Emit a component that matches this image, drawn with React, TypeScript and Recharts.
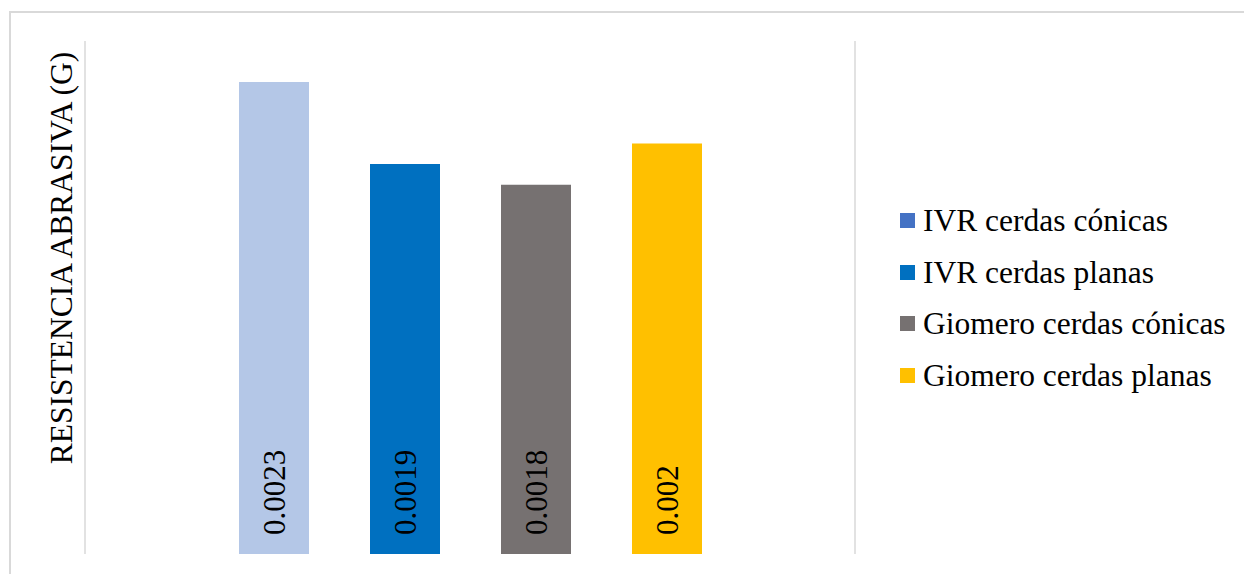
import React from 'react';
import { BarChart, Bar, XAxis, YAxis, CartesianGrid, LabelList } from 'recharts';

const categories = ['Resistencia abrasiva'];
const seriesKeys = ['ivrConicas', 'ivrPlanas', 'giomeroConicas', 'giomeroPlanas'];
const seriesNames = ['IVR cerdas cónicas', 'IVR cerdas planas', 'Giomero cerdas cónicas', 'Giomero cerdas planas'];
const seriesValues = [0.0023, 0.0019, 0.0018, 0.002];
const barColors = ['#B4C7E7', '#0070C0', '#767171', '#FFC000'];
const legendColors = ['#4472C4', '#0070C0', '#767171', '#FFC000'];
const yDomain = [0, 0.0025];

const data = categories.map((name) => {
  const row: Record<string, string | number> = { name };
  seriesKeys.forEach((k, i) => {
    row[k] = seriesValues[i];
  });
  return row;
});

const FONT = '"Times New Roman", "Liberation Serif", serif';

const VerticalLabel = (props: any) => {
  const { x, y, width, height, value } = props;
  const cx = x + width / 2;
  const by = y + height - 19;
  return (
    <text
      x={cx}
      y={by}
      transform={`rotate(-90, ${cx}, ${by})`}
      textAnchor="start"
      dominantBaseline="central"
      style={{ fontFamily: FONT, fontSize: 31 }}
      fill="#000"
    >
      {value}
    </text>
  );
};

const App = () => {
  return (
    <div
      style={{
        position: 'fixed',
        left: 0,
        top: 0,
        width: 1244,
        height: 574,
        overflow: 'hidden',
        background: '#fff',
        fontFamily: FONT,
      }}
    >
      <div
        style={{
          position: 'absolute',
          left: 9,
          top: 11,
          width: 1300,
          height: 700,
          border: '2px solid #d9d9d9',
          boxSizing: 'border-box',
        }}
      />
      <div style={{ position: 'absolute', left: 0, top: 0 }}>
        <BarChart
          width={1244}
          height={574}
          data={data}
          margin={{ top: 41, right: 389, bottom: 20, left: 85 }}
          barSize={70}
          barGap={61}
        >
          <CartesianGrid
            horizontal={false}
            stroke="#d9d9d9"
            strokeWidth={1.5}
            verticalCoordinatesGenerator={({ offset }: any) => [offset.left, offset.left + offset.width]}
          />
          <XAxis dataKey="name" hide />
          <YAxis hide domain={yDomain} />
          {seriesKeys.map((k, i) => (
            <Bar key={k} dataKey={k} name={seriesNames[i]} fill={barColors[i]} isAnimationActive={false}>
              <LabelList dataKey={k} content={VerticalLabel} />
            </Bar>
          ))}
        </BarChart>
      </div>
      <div
        style={{
          position: 'absolute',
          left: 62,
          top: 258,
          transform: 'translate(-50%, -50%) rotate(-90deg)',
          whiteSpace: 'nowrap',
          fontSize: 31.5,
          color: '#000',
          lineHeight: 1,
        }}
      >
        RESISTENCIA ABRASIVA (G)
      </div>
      <div style={{ position: 'absolute', left: 900, top: 195 }}>
        {seriesNames.map((n, i) => (
          <div key={n} style={{ display: 'flex', alignItems: 'center', height: 51.5 }}>
            <div style={{ width: 15, height: 15, background: legendColors[i], marginRight: 8 }} />
            <span style={{ fontSize: 31.5, color: '#000', whiteSpace: 'nowrap', lineHeight: 1 }}>{n}</span>
          </div>
        ))}
      </div>
    </div>
  );
};

export default App;
